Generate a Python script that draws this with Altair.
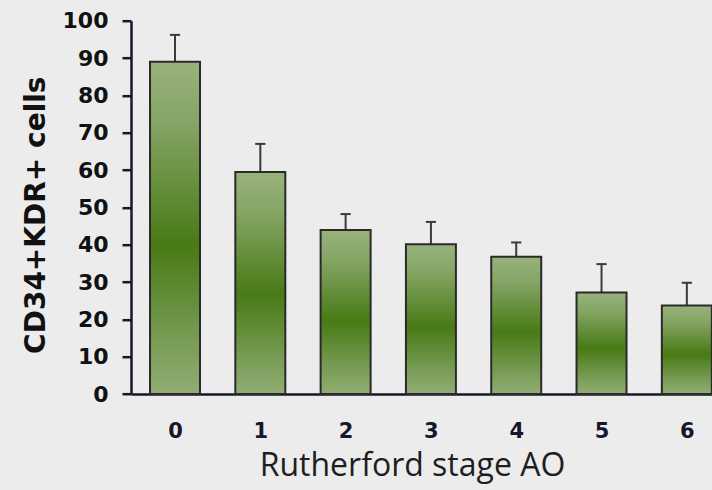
import altair as alt
import pandas as pd

# Rutherford stage vs. circulating CD34+KDR+ cell counts (mean with upper SD)
stages = [0, 1, 2, 3, 4, 5, 6]
means = [89.0, 59.5, 43.9, 40.1, 36.8, 27.2, 23.7]
upper = [96.2, 67.0, 48.2, 46.1, 40.6, 34.8, 29.8]

df = pd.DataFrame({"stage": stages, "mean": means, "upper": upper})

BAR_HALF = 0.293
CAP_HALF = 0.06
INK = "#17172b"

x_scale = alt.Scale(domain=[-0.516, 6.295], nice=False, zero=False)
y_scale = alt.Scale(domain=[0, 100], nice=False)

x_axis = alt.Axis(
    values=stages,
    format="d",
    ticks=False,
    tickSize=0,
    grid=False,
    domainColor=INK,
    domainWidth=2.5,
    labelFont="DejaVu Sans",
    labelFontWeight="bold",
    labelFontSize=21,
    labelColor=INK,
    labelPadding=26,
    labelOverlap=False,
    title="Rutherford stage AO",
    titleFont="Open Sans",
    titleFontWeight="normal",
    titleFontSize=32,
    titleColor="#1e1e1e",
    titleBaseline="alphabetic",
    titleX=281,
    titleY=81,
    titleAnchor="middle",
    titleAlign="center",
)

y_axis = alt.Axis(
    values=list(range(0, 101, 10)),
    grid=False,
    tickSize=9,
    tickWidth=2.5,
    tickColor=INK,
    domainColor=INK,
    domainWidth=2.5,
    labelFont="DejaVu Sans",
    labelFontWeight="bold",
    labelFontSize=22,
    labelColor="#111111",
    labelPadding=14,
    labelOverlap=False,
    title="CD34+KDR+ cells",
    titleFont="DejaVu Sans",
    titleFontWeight="bold",
    titleFontSize=28,
    titleColor="#111111",
    titleAngle=-90,
    titleBaseline="middle",
    titleX=-95,
    titleY=194,
)

green_fill = alt.Gradient(
    gradient="linear",
    x1=0, y1=0, x2=0, y2=1,
    stops=[
        alt.GradientStop(offset=0.0, color="#98b27c"),
        alt.GradientStop(offset=0.18, color="#86a566"),
        alt.GradientStop(offset=0.55, color="#487a15"),
        alt.GradientStop(offset=0.85, color="#7a9d58"),
        alt.GradientStop(offset=1.0, color="#92ad74"),
    ],
)

base = alt.Chart(df).transform_calculate(
    left=f"datum.stage - {BAR_HALF}",
    right=f"datum.stage + {BAR_HALF}",
    capL=f"datum.stage - {CAP_HALF}",
    capR=f"datum.stage + {CAP_HALF}",
)

err_line = base.mark_rule(color="#3a3a3a", strokeWidth=2).encode(
    x=alt.X("stage:Q", scale=x_scale, axis=x_axis),
    y=alt.Y("mean:Q", scale=y_scale, axis=y_axis),
    y2="upper:Q",
)

err_cap = base.mark_rule(color="#3a3a3a", strokeWidth=2).encode(
    x=alt.X("capL:Q", scale=x_scale, axis=x_axis),
    x2="capR:Q",
    y=alt.Y("upper:Q", scale=y_scale, axis=y_axis),
)

bars = base.mark_bar(fill=green_fill, stroke="#2a2a2a", strokeWidth=2).encode(
    x=alt.X("left:Q", scale=x_scale, axis=x_axis),
    x2="right:Q",
    y=alt.Y("mean:Q", scale=y_scale, axis=y_axis),
    y2=alt.datum(0),
)

chart = (
    alt.layer(err_line, err_cap, bars)
    .properties(
        width=581,
        height=373.3,
        autosize=alt.AutoSizeParams(type="none"),
        padding={"left": 131, "top": 20.7, "right": 0, "bottom": 96},
        background="#ececec",
    )
    .configure_view(stroke=None)
)

chart.save("out.html", embed_options={"renderer": "svg", "actions": False})
